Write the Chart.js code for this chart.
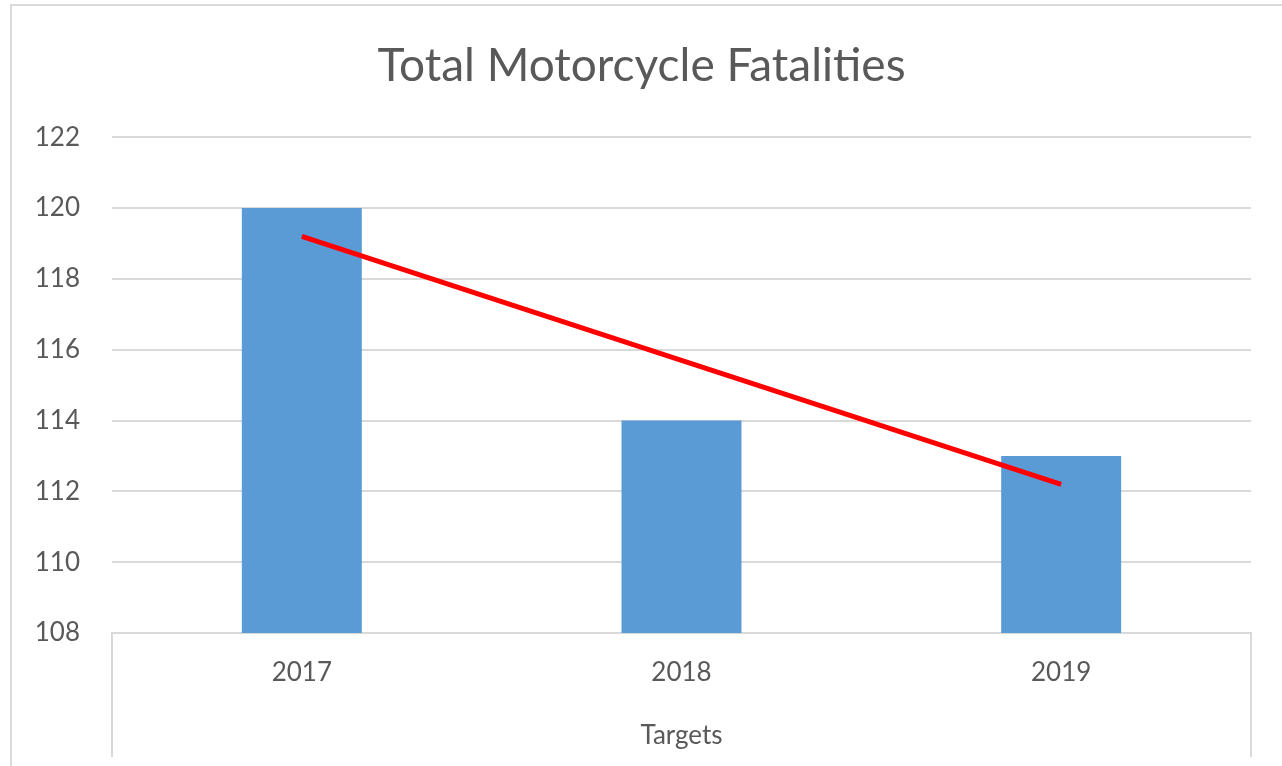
<!DOCTYPE html>
<html>
<head>
<meta charset="utf-8">
<script src="https://cdn.jsdelivr.net/npm/chart.js@4/dist/chart.umd.min.js"></script>
<style>
    html, body { margin: 0; padding: 0; background: #fff; overflow: hidden; }
    #frame {
        position: absolute; left: 10px; top: 4px; width: 2000px; height: 2000px;
        border-left: 2px solid #d9d9d9; border-top: 2px solid #d9d9d9;
    }
    #chart { position: absolute; left: 0; top: 0; }
</style>
</head>
<body>
<div id="frame"></div>
<canvas id="chart" width="1282" height="766"></canvas>
<script>
// Chart data
const years = ['2017', '2018', '2019'];
const fatalities = [120, 114, 113];
const trendValues = [119.2, 115.7, 112.2];
const yTicks = [108, 110, 112, 114, 116, 118, 120, 122];

const textColor = '#595959';
const gridColor = '#d9d9d9';
const fontFamily = 'Lato, "Open Sans", sans-serif';

const ctx = document.getElementById('chart').getContext('2d');
new Chart(ctx, {
    data: {
        labels: years,
        datasets: [
            {
                type: 'line',
                label: 'Trend',
                data: trendValues,
                borderColor: '#ff0000',
                borderWidth: 5,
                pointRadius: 0,
                tension: 0,
                order: 0
            },
            {
                type: 'bar',
                label: 'Total Motorcycle Fatalities',
                data: fatalities,
                backgroundColor: '#5b9bd5',
                barPercentage: 0.316,
                categoryPercentage: 1,
                order: 1
            }
        ]
    },
    options: {
        responsive: false,
        animation: false,
        // left padding nudges the title centre to the right
        layout: { padding: { left: 32, right: 31, top: 0, bottom: 0 } },
        plugins: {
            legend: { display: false },
            tooltip: { enabled: false },
            title: {
                display: true,
                text: 'Total Motorcycle Fatalities',
                color: textColor,
                font: { family: fontFamily, size: 46, weight: 'normal' },
                padding: { top: 39, bottom: 43 }
            }
        },
        scales: {
            x: {
                offset: true,
                grid: {
                    drawOnChartArea: false,
                    tickLength: 124,
                    lineWidth: 2,
                    tickColor: c => (c.index === 1 || c.index === 2) ? 'rgba(0,0,0,0)' : gridColor
                },
                border: { display: true, color: gridColor, width: 2 },
                ticks: {
                    color: textColor,
                    font: { family: fontFamily, size: 26 },
                    padding: -100
                },
                title: {
                    display: true,
                    text: 'Targets',
                    color: textColor,
                    font: { family: fontFamily, size: 26 },
                    padding: { top: 0, bottom: 15 }
                },
                afterFit: scale => { scale.height = 133; }
            },
            y: {
                min: yTicks[0],
                max: yTicks[yTicks.length - 1],
                afterBuildTicks: scale => { scale.ticks = yTicks.map(v => ({ value: v })); },
                grid: { color: gridColor, lineWidth: 2, drawTicks: false },
                border: { display: false },
                ticks: {
                    color: textColor,
                    font: { family: fontFamily, size: 26 },
                    padding: 32
                },
                afterFit: scale => { scale.width = 80; }
            }
        }
    }
});
</script>
</body>
</html>
